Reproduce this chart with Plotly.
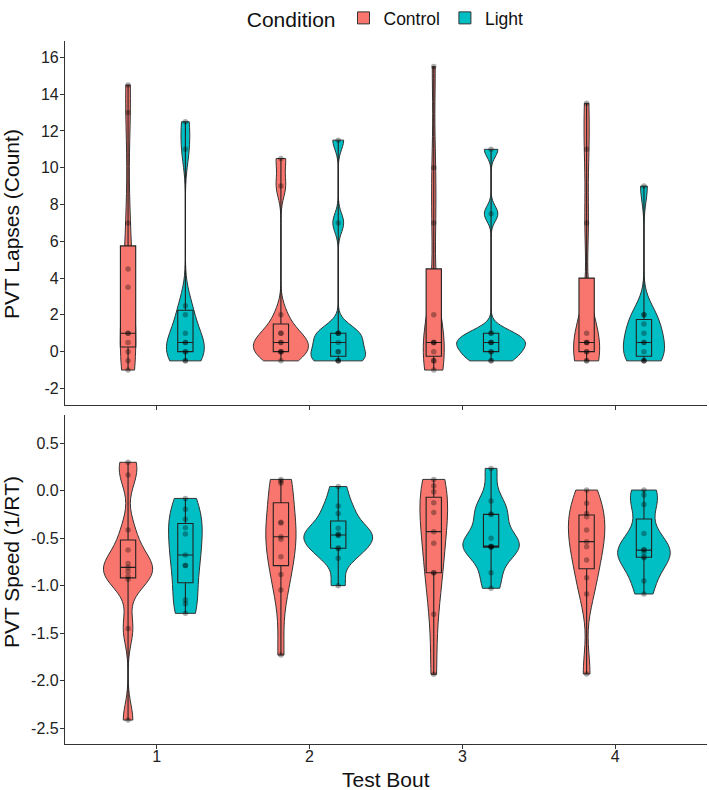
import numpy as np
import plotly.graph_objects as go

# ---------------- data ----------------
bouts = [1, 2, 3, 4]
bout_labels = ["1", "2", "3", "4"]
conditions = ["Control", "Light"]

lapses_control = [
    [-1, -0.5, 0, 0.5, 1, 1, 3.5, 4.5, 7, 13, 14.5],
    [-0.5, 0, 0, 0, 0.5, 0.5, 1, 1, 2, 9, 10.5],
    [-1, -0.5, -0.5, 0, 0.5, 0.5, 0.5, 2, 7, 10, 15.5],
    [-0.5, -0.5, 0, 0, 0.5, 0.5, 0.5, 1, 7, 11, 13.5],
]
lapses_light = [
    [-0.5, -0.5, 0, 0, 0.5, 0.5, 1, 2, 2.5, 11, 12.5],
    [-0.5, -0.5, -0.5, 0, 0, 0.5, 1, 1, 1, 7, 11.5],
    [-0.5, -0.5, 0, 0, 0.5, 0.5, 0.5, 1, 1, 7.5, 11],
    [-0.5, -0.5, -0.5, 0, 0.5, 0.5, 1, 1.5, 2, 2, 9],
]
speed_control = [
    [-2.413, -1.448, -0.932, -0.900, -0.85, -0.806, -0.765, -0.624, -0.413, 0.166, 0.30],
    [-1.729, -1.044, -0.88, -0.694, -0.51, -0.483, -0.34, -0.33, 0.08, 0.10, 0.12],
    [-1.932, -1.3, -0.862, -0.862, -0.553, -0.43, -0.227, -0.125, -0.01, 0.05, 0.12],
    [-1.928, -1.086, -0.914, -0.728, -0.588, -0.535, -0.413, -0.272, -0.238, -0.132, 0.008],
]
speed_light = [
    [-1.29, -1.19, -1.15, -0.785, -0.785, -0.675, -0.455, -0.389, -0.30, -0.195, -0.08],
    [-0.998, -0.71, -0.61, -0.60, -0.47, -0.465, -0.455, -0.395, -0.24, -0.16, 0.045],
    [-1.026, -0.863, -0.595, -0.59, -0.587, -0.583, -0.50, -0.25, -0.245, -0.107, 0.236],
    [-1.086, -0.95, -0.705, -0.695, -0.65, -0.624, -0.618, -0.448, -0.144, -0.045, 0.008],
]

lapse_tickvals = [-2, 0, 2, 4, 6, 8, 10, 12, 14, 16]
lapse_ticktext = ["-2", "0", "2", "4", "6", "8", "10", "12", "14", "16"]
speed_tickvals = [-2.5, -2.0, -1.5, -1.0, -0.5, 0.0, 0.5]
speed_ticktext = ["-2.5", "-2.0", "-1.5", "-1.0", "-0.5", "0.0", "0.5"]

# ---------------- styling ----------------
COLORS = {"Control": "#F8766D", "Light": "#00BFC4"}
DODGE = {"Control": -0.1875, "Light": 0.1875}
MAX_VIOLIN_WIDTH = 0.45
BOX_WIDTH = 0.1
FONT = "Liberation Sans, Arial, Helvetica, sans-serif"
INK = "#222222"
LINE = "#333333"


def nrd0(v):
    v = np.asarray(v, float)
    sd = np.std(v, ddof=1)
    q1, q3 = np.percentile(v, [25, 75])
    lo = min(sd, (q3 - q1) / 1.34)
    if lo <= 0:
        lo = sd if sd > 0 else 1.0
    return 0.9 * lo * len(v) ** -0.2


def kde_max(v, bw):
    v = np.asarray(v, float)
    g = np.linspace(v.min(), v.max(), 800)
    d = np.exp(-0.5 * ((g[:, None] - v[None, :]) / bw) ** 2).sum(1)
    return d.max() / (len(v) * bw * np.sqrt(2 * np.pi))


fig = go.Figure()


def add_panel(data, xa, ya, legend, tag):
    # area scaling across the panel (like ggplot scale = "area")
    stats = {}
    for c in conditions:
        for i, vals in enumerate(data[c]):
            bw = nrd0(vals)
            stats[(c, i)] = (bw, kde_max(vals, bw))
    mmax = max(s[1] for s in stats.values())

    for c in conditions:
        for i, vals in enumerate(data[c]):
            bw, m = stats[(c, i)]
            pos = bouts[i] + DODGE[c]
            fig.add_trace(go.Violin(
                x=[pos] * len(vals), y=vals, name=c, legendgroup=c,
                scalegroup=f"{tag}-{c}-{i}", scalemode="width",
                showlegend=legend and i == 0,
                width=MAX_VIOLIN_WIDTH * m / mmax,
                bandwidth=bw, spanmode="hard", points=False,
                fillcolor=COLORS[c], opacity=1,
                line=dict(color=LINE, width=1),
                box=dict(visible=False), meanline=dict(visible=False),
                xaxis=xa, yaxis=ya, hoverinfo="skip",
            ))
    for c in conditions:
        for i, vals in enumerate(data[c]):
            pos = bouts[i] + DODGE[c]
            fig.add_trace(go.Box(
                x=[pos] * len(vals), y=vals, name=c, legendgroup=c, showlegend=False,
                width=BOX_WIDTH, boxpoints=False, whiskerwidth=0,
                quartilemethod="inclusive",
                fillcolor=COLORS[c], line=dict(color=INK, width=1.1),
                xaxis=xa, yaxis=ya, hoverinfo="skip",
            ))
    for c in conditions:
        for i, vals in enumerate(data[c]):
            pos = bouts[i] + DODGE[c]
            fig.add_trace(go.Scatter(
                x=[pos] * len(vals), y=vals, mode="markers", showlegend=False,
                marker=dict(color="rgba(0,0,0,0.32)", size=5.5),
                xaxis=xa, yaxis=ya, hoverinfo="skip",
            ))


add_panel({"Control": lapses_control, "Light": lapses_light}, "x2", "y2", True, "top")
add_panel({"Control": speed_control, "Light": speed_light}, "x", "y", False, "bot")

axis_common = dict(
    showline=True, linecolor=LINE, linewidth=1.2,
    ticks="outside", ticklen=4, tickwidth=1.1, tickcolor=LINE,
    showgrid=False, zeroline=False, automargin=False,
    tickfont=dict(family=FONT, size=16, color=INK),
)

FIG_W, FIG_H = 709, 790
M_T, M_B, M_L, M_R = 41, 46, 65, 2
H_PLOT = FIG_H - M_T - M_B
TITLE_FONT = dict(family=FONT, size=21, color="#111")
fig.update_layout(
    width=FIG_W, height=FIG_H,
    margin=dict(l=M_L, r=M_R, t=M_T, b=M_B),
    paper_bgcolor="white", plot_bgcolor="white",
    font=dict(family=FONT, color=INK),
    violinmode="overlay", boxmode="overlay", violingap=0, boxgap=0,
    xaxis=dict(
        range=[0.4, 4.6], tickvals=bouts, ticktext=bout_labels,
        anchor="y", domain=[0, 1], ticklabelstandoff=-6,
        **axis_common,
    ),
    xaxis2=dict(
        range=[0.4, 4.6], tickvals=bouts, ticktext=bout_labels,
        anchor="y2", matches="x", showticklabels=False, domain=[0, 1],
        **axis_common,
    ),
    yaxis=dict(
        range=[-2.665, 0.798], tickvals=speed_tickvals, ticktext=speed_ticktext,
        domain=[0, (744 - 415) / H_PLOT], anchor="x", ticklabelstandoff=-2,
        **axis_common,
    ),
    yaxis2=dict(
        range=[-2.90, 16.89], tickvals=lapse_tickvals, ticktext=lapse_ticktext,
        domain=[(744 - 405) / H_PLOT, 1], anchor="x2", ticklabelstandoff=-2,
        **axis_common,
    ),
    legend=dict(
        orientation="h", xref="paper", x=0.28, xanchor="left",
        yref="container", y=1.0, yanchor="top",
        title=dict(text="Condition", font=TITLE_FONT),
        font=dict(family=FONT, size=17.5, color="#111"),
        bgcolor="rgba(0,0,0,0)",
    ),
    annotations=[
        dict(text="PVT Lapses (Count)", textangle=-90, xref="paper", yref="paper",
             x=(11 - 65) / 642, y=(744 - 224) / H_PLOT, xanchor="center", yanchor="middle",
             showarrow=False, font=TITLE_FONT),
        dict(text="PVT Speed (1/RT)", textangle=-90, xref="paper", yref="paper",
             x=(11 - 65) / 642, y=(744 - 562) / H_PLOT, xanchor="center", yanchor="middle",
             showarrow=False, font=TITLE_FONT),
        dict(text="Test Bout", xref="paper", yref="paper",
             x=0.5, y=(744 - 779) / H_PLOT, xanchor="center", yanchor="middle",
             showarrow=False, font=TITLE_FONT),
    ],
)

# remove the default 8px page margin so the figure sits at the window's corner
fig.write_html(
    "out.html",
    config={"displayModeBar": False},
    post_script="document.body.style.margin='0';document.body.style.padding='0';",
)
